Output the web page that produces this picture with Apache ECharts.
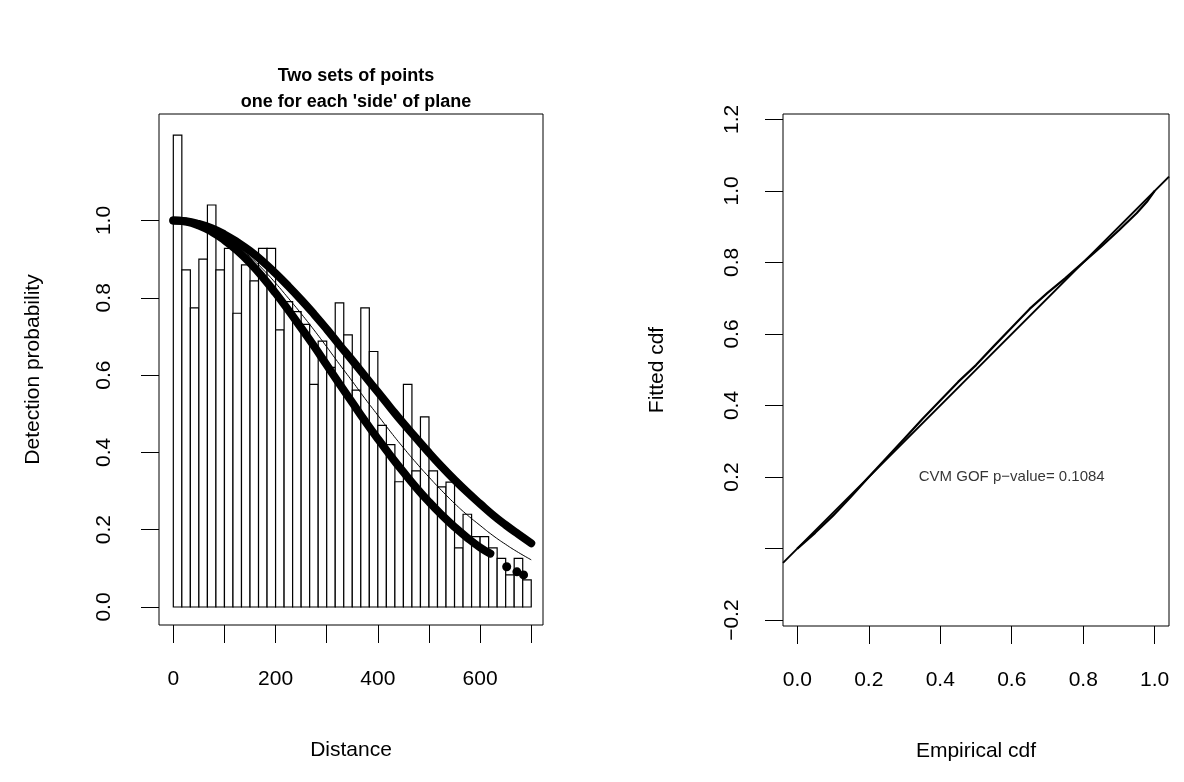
<!DOCTYPE html>
<html><head><meta charset="utf-8">
<script src="https://cdn.jsdelivr.net/npm/echarts@6/dist/echarts.min.js"></script>
<style>html,body{margin:0;padding:0;background:#fff}#c{width:1184px;height:782px}</style>
</head><body><div id="c"></div>
<script>
// ---------- data ----------
const binCount = 42;
const histMax = 700;
const barHeights = [1.221,0.872,0.774,0.900,1.040,0.872,0.928,0.760,0.885,0.844,
  0.928,0.928,0.717,0.790,0.764,0.731,0.576,0.688,0.620,0.787,
  0.704,0.561,0.774,0.661,0.470,0.420,0.324,0.576,0.352,0.492,
  0.352,0.311,0.323,0.153,0.240,0.182,0.182,0.153,0.126,0.083,
  0.126,0.070];
const curveDist = [0,25,50,75,100,125,150,175,200,225,250,275,300,325,350,375,400,425,450,475,500,525,550,575,600,625,650,675,700];
const upperProb = [1.000,0.998,0.991,0.980,0.964,0.944,0.921,0.894,0.863,0.830,0.795,0.758,0.719,0.678,0.638,0.597,0.556,0.515,0.475,0.437,0.399,0.363,0.329,0.297,0.267,0.238,0.212,0.188,0.165];
const avgProb = [1.000,0.997,0.989,0.976,0.957,0.933,0.906,0.874,0.838,0.799,0.759,0.717,0.673,0.628,0.584,0.539,0.496,0.453,0.412,0.373,0.336,0.301,0.268,0.238,0.211,0.185,0.162,0.141,0.122];
const lowerDist = [0,25,50,75,100,125,150,175,200,225,250,275,300,325,350,375,400,425,450,475,500,525,550,575,600,620];
const lowerProb = [1.000,0.997,0.987,0.971,0.949,0.922,0.890,0.853,0.812,0.768,0.722,0.675,0.626,0.577,0.529,0.481,0.435,0.391,0.349,0.309,0.272,0.238,0.207,0.179,0.154,0.138];
const lowerTailDist = [652,672,685];
const lowerTailProb = [0.104,0.091,0.083];

const empCdf = [0.00,0.05,0.10,0.15,0.20,0.25,0.30,0.35,0.40,0.45,0.50,0.55,0.60,0.65,0.70,0.75,0.80,0.85,0.90,0.95,0.98,1.00];
const fitCdf = [0.000,0.044,0.092,0.145,0.200,0.254,0.308,0.362,0.414,0.466,0.513,0.566,0.618,0.670,0.715,0.756,0.800,0.844,0.890,0.938,0.972,1.000];
const refLine = [[-0.04,-0.04],[1.04,1.04]];

const distTicks = [0,100,200,300,400,500,600,700];
const distLabels = [0,200,400,600];
const probTicks = [0,0.2,0.4,0.6,0.8,1.0];
const cdfXTicks = [0,0.2,0.4,0.6,0.8,1.0];
const cdfYTicks = [-0.2,0,0.2,0.4,0.6,0.8,1.0,1.2];
const cdfYLabels = [-0.2,0.2,0.4,0.6,0.8,1.0,1.2];
const gofText = 'CVM GOF p\u2212value= 0.1084';
const gofPos = [0.6, 0.2];

// ---------- chart ----------
const FONT = '"Liberation Sans", Arial, sans-serif';
const fmt1 = v => (Math.round(v*10)/10).toFixed(1).replace('-', '\u2212');
const bw = histMax / binCount;
const barData = barHeights.map((h, i) => [i * bw, (i + 1) * bw, h]);
const zip = (a, b) => a.map((v, i) => [v, b[i]]);

const axisCommon = {
  axisLine: {show: false, onZero: false},
  splitLine: {show: false},
  axisTick: {show: true, inside: false, length: 18, lineStyle: {color: '#000', width: 1}},
  axisLabel: {color: '#000', fontSize: 21, fontFamily: FONT},
  nameTextStyle: {color: '#000', fontSize: 21, fontFamily: FONT},
  nameLocation: 'middle'
};

const chart = echarts.init(document.getElementById('c'), null, {renderer: 'canvas'});
chart.setOption({
  animation: false,
  backgroundColor: '#fff',
  title: {
    text: "Two sets of points\none for each 'side' of plane",
    left: 351, top: 58, textAlign: 'center',
    textStyle: {fontFamily: FONT, fontSize: 18, fontWeight: 'bold', color: '#000', lineHeight: 26}
  },
  grid: [
    {left: 159, top: 114, width: 384, height: 511, show: true, borderColor: '#000', borderWidth: 1, containLabel: false},
    {left: 783, top: 114, width: 386, height: 512, show: true, borderColor: '#000', borderWidth: 1, containLabel: false}
  ],
  xAxis: [
    Object.assign({}, axisCommon, {
      gridIndex: 0, type: 'value', min: -28, max: 723, name: 'Distance', nameGap: 115,
      axisTick: Object.assign({}, axisCommon.axisTick, {customValues: distTicks}),
      axisLabel: Object.assign({}, axisCommon.axisLabel, {customValues: distLabels, margin: 44, formatter: v => String(v)})
    }),
    Object.assign({}, axisCommon, {
      gridIndex: 1, type: 'value', min: -0.04, max: 1.04, name: 'Empirical cdf', nameGap: 115,
      axisTick: Object.assign({}, axisCommon.axisTick, {customValues: cdfXTicks}),
      axisLabel: Object.assign({}, axisCommon.axisLabel, {customValues: cdfXTicks, margin: 44, formatter: fmt1})
    })
  ],
  yAxis: [
    Object.assign({}, axisCommon, {
      gridIndex: 0, type: 'value', min: -0.0466, max: 1.2755, name: 'Detection probability', nameGap: 115, nameRotate: 90,
      axisTick: Object.assign({}, axisCommon.axisTick, {customValues: probTicks}),
      axisLabel: Object.assign({}, axisCommon.axisLabel, {customValues: probTicks, rotate: 90, margin: 44, formatter: fmt1})
    }),
    Object.assign({}, axisCommon, {
      gridIndex: 1, type: 'value', min: -0.2165, max: 1.215, name: 'Fitted cdf', nameGap: 115, nameRotate: 90,
      axisTick: Object.assign({}, axisCommon.axisTick, {customValues: cdfYTicks}),
      axisLabel: Object.assign({}, axisCommon.axisLabel, {customValues: cdfYLabels, rotate: 90, margin: 40, formatter: fmt1})
    })
  ],
  series: [
    {
      type: 'custom', xAxisIndex: 0, yAxisIndex: 0, data: barData, encode: {x: [0, 1], y: 2}, z: 1,
      renderItem: function (params, api) {
        const p0 = api.coord([api.value(0), api.value(2)]);
        const p1 = api.coord([api.value(1), 0]);
        return {type: 'rect', shape: {x: p0[0], y: p0[1], width: p1[0] - p0[0], height: p1[1] - p0[1]},
          style: {fill: '#fff', stroke: '#000', lineWidth: 1.2}};
      }
    },
    {type: 'line', xAxisIndex: 0, yAxisIndex: 0, data: zip(curveDist, avgProb), showSymbol: false, smooth: true, z: 3,
      lineStyle: {color: '#000', width: 1}},
    {type: 'line', xAxisIndex: 0, yAxisIndex: 0, data: zip(curveDist, upperProb), showSymbol: false, smooth: true, z: 4,
      lineStyle: {color: '#000', width: 8, cap: 'round', join: 'round'}},
    {type: 'line', xAxisIndex: 0, yAxisIndex: 0, data: zip(lowerDist, lowerProb), showSymbol: false, smooth: true, z: 4,
      lineStyle: {color: '#000', width: 8, cap: 'round', join: 'round'}},
    {type: 'scatter', xAxisIndex: 0, yAxisIndex: 0, data: zip(lowerTailDist, lowerTailProb), symbol: 'circle', symbolSize: 9, z: 4,
      itemStyle: {color: '#000', opacity: 1}},
    {type: 'line', xAxisIndex: 1, yAxisIndex: 1, data: refLine, showSymbol: false, z: 3,
      lineStyle: {color: '#000', width: 2}},
    {type: 'line', xAxisIndex: 1, yAxisIndex: 1, data: zip(empCdf, fitCdf), showSymbol: false, z: 4,
      lineStyle: {color: '#000', width: 2.2}},
    {type: 'scatter', xAxisIndex: 1, yAxisIndex: 1, data: [gofPos], symbolSize: 0, z: 5,
      label: {show: true, position: 'inside', formatter: gofText, color: '#000', fontSize: 15, fontFamily: FONT}}
  ]
});
</script></body></html>
